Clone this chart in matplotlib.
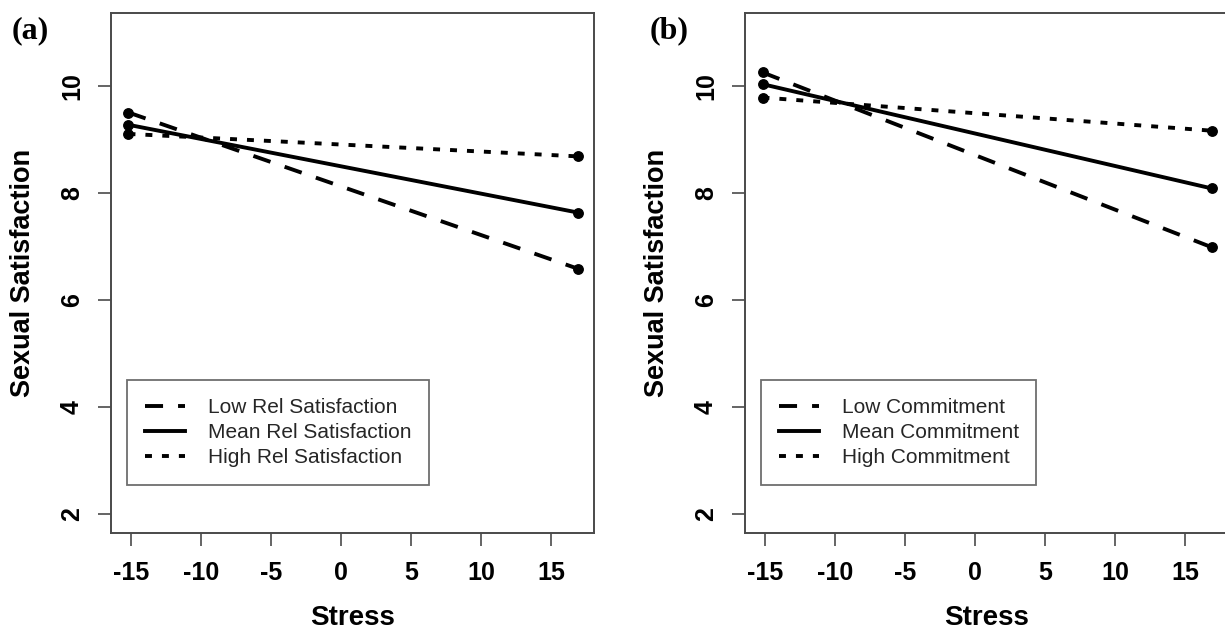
import matplotlib
matplotlib.use("Agg")
import matplotlib.pyplot as plt
from matplotlib.lines import Line2D

# ---- data ----
stress = [-15.2, 16.9]
a_low = [9.50, 6.58]
a_mean = [9.27, 7.63]
a_high = [9.10, 8.68]
b_low = [10.25, 6.98]
b_mean = [10.03, 8.08]
b_high = [9.78, 9.16]
a_labels = ["Low Rel Satisfaction", "Mean Rel Satisfaction", "High Rel Satisfaction"]
b_labels = ["Low Commitment", "Mean Commitment", "High Commitment"]
xticks = [-15, -10, -5, 0, 5, 10, 15]
yticks = [2, 4, 6, 8, 10]
panel_tags = ["(a)", "(b)"]

plt.rcParams['lines.scale_dashes'] = False
plt.rcParams['font.family'] = ['Liberation Sans', 'DejaVu Sans']

fig = plt.figure(figsize=(12.25, 6.37), dpi=100)
ax_a = fig.add_axes([111/1225, 1 - 533/637, 483/1225, 520/637])
ax_b = fig.add_axes([745/1225, 1 - 533/637, 483/1225, 520/637])

styles = [(0, (13, 10.8)), '-', (0, (5, 7.2))]
lw = 2.8
edge = '#4a4a4a'

for ax, series, labels in [(ax_a, [a_low, a_mean, a_high], a_labels),
                           (ax_b, [b_low, b_mean, b_high], b_labels)]:
    for ys, ls in zip(series, styles):
        ax.plot(stress, ys, linestyle=ls, color='black', lw=lw,
                marker='o', markersize=6.8, solid_capstyle='butt', dash_capstyle='butt')
    ax.set_xlim(-16.45, 18.05)
    ax.set_ylim(1.64, 11.36)
    ax.set_xticks(xticks)
    ax.set_xticklabels([str(v) for v in xticks])
    ax.set_yticks(yticks)
    ax.set_yticklabels([str(v) for v in yticks])
    ax.tick_params(axis='both', direction='out', length=9.4, width=1.2, color=edge,
                   labelsize=18)
    ax.tick_params(axis='x', pad=10.5)
    ax.tick_params(axis='y', labelrotation=90, pad=10)
    for lab in ax.get_yticklabels():
        lab.set_verticalalignment('center')
    for lab in ax.get_xticklabels() + ax.get_yticklabels():
        lab.set_fontweight('bold')
    for sp in ax.spines.values():
        sp.set_color(edge)
        sp.set_linewidth(1.4)
    ax.set_xlabel('Stress', fontsize=20, fontweight='bold', labelpad=15)
    ax.set_ylabel('Sexual Satisfaction', fontsize=19.5, fontweight='bold', labelpad=17)
    handles = [Line2D([], [], color='black', lw=lw, linestyle=ls) for ls in styles]
    leg = ax.legend(handles, labels, loc='lower left', bbox_to_anchor=(0.034, 0.092),
                    borderaxespad=0, fontsize=15, frameon=True, fancybox=False,
                    handlelength=1.9, handletextpad=1.1, labelspacing=0.3,
                    borderpad=0.85)
    leg.get_frame().set_edgecolor(edge)
    leg.get_frame().set_linewidth(1.3)
    for t in leg.get_texts():
        t.set_color('#262626')

fig.text(30/1225, 1 - 31/637, panel_tags[0], ha='center', va='center',
         fontfamily='Liberation Serif', fontweight='bold', fontsize=23)
fig.text(669/1225, 1 - 31/637, panel_tags[1], ha='center', va='center',
         fontfamily='Liberation Serif', fontweight='bold', fontsize=23)

fig.savefig('out.png', dpi=100)
